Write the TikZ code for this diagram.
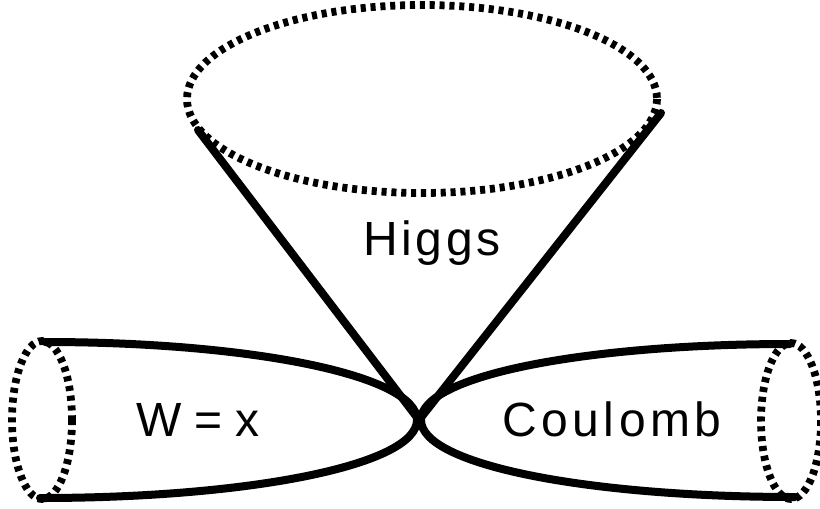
\documentclass[tikz,border=0pt]{standalone}
\usepackage{fontspec}
\setmainfont{Liberation Sans}
\tikzset{solidline/.style={line width=6pt,black,line cap=round},
dotline/.style={line width=5.8pt,black,dash pattern=on 3.8pt off 3.6pt},
lab/.style={font=\fontsize{36}{38}\selectfont,inner sep=0pt,text=black,anchor=base}}
\begin{document}
\begin{tikzpicture}[x=0.75pt,y=-0.75pt]
\useasboundingbox (0,0) rectangle (820,508);
\coordinate (tip) at (419,420);
\coordinate (hl) at (198,130);
\coordinate (hr) at (661,113);
\coordinate (la) at (417,420);
\coordinate (ra) at (421,420);
\draw[dotline] (422,99) ellipse (235 and 94);
\draw[solidline] (hl) -- (tip) -- (hr);
\draw[solidline] (45,342) .. controls (250,342) and (417,375) .. (la) .. controls (417,465) and (250,498) .. (40,498);
\draw[solidline] (790,344) .. controls (588,344) and (421,375) .. (ra) .. controls (421,465) and (588,497) .. (795,497);
\draw[dotline] (42,420) ellipse (30 and 79);
\draw[dotline] (791,421) ellipse (30 and 78);
\node[lab] (h) at (432,255) {H\kern2.7pt i\kern2.7pt g\kern2.7pt g\kern2.7pt s};
\node[lab] (w) at (198,436) {W\kern10pt=\kern10pt x};
\node[lab] (c) at (612,436) {C\kern3.4pt o\kern3.4pt u\kern3.4pt l\kern3.4pt o\kern3.4pt m\kern3.4pt b};
\end{tikzpicture}
\end{document}
